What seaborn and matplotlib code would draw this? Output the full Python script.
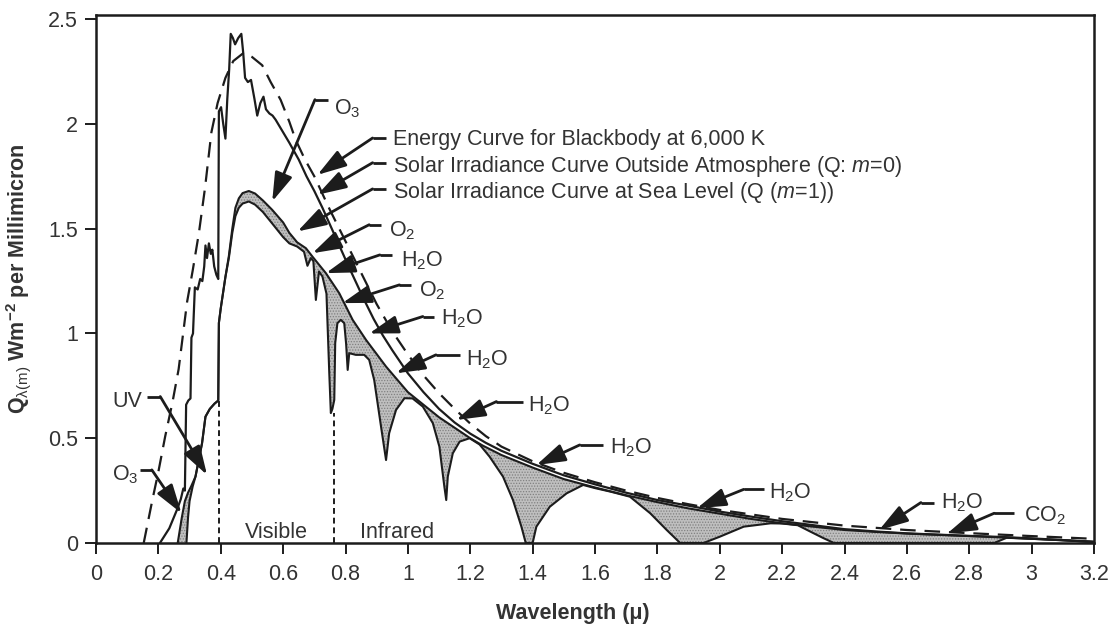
import numpy as np
import matplotlib
matplotlib.use("Agg")
import matplotlib.pyplot as plt
import seaborn as sns

# ---- spectral curves (wavelength in microns, irradiance per millimicron) ----
# blackbody curve for 6,000 K
bb_x = [0.153, 0.18, 0.2, 0.222, 0.245, 0.265, 0.292, 0.31, 0.33, 0.35, 0.37, 0.39,
        0.415, 0.44, 0.474, 0.5, 0.533, 0.56, 0.592, 0.62, 0.64, 0.67, 0.70, 0.75,
        0.8, 0.85, 0.9, 0.95, 1.0, 1.05, 1.1, 1.15, 1.2, 1.25, 1.3, 1.4, 1.5, 1.6,
        1.7, 1.8, 1.9, 2.0, 2.2, 2.4, 2.6, 2.8, 3.0, 3.2]
bb_y = [0.0, 0.2, 0.34, 0.51, 0.67, 0.83, 1.15, 1.3, 1.48, 1.7, 1.96, 2.1,
        2.22, 2.3, 2.34, 2.32, 2.28, 2.2, 2.115, 2.01, 1.925, 1.83, 1.75, 1.59,
        1.44, 1.29, 1.14, 1.01, 0.9, 0.8, 0.715, 0.64, 0.57, 0.51, 0.46, 0.39, 0.335, 0.29,
        0.25, 0.215, 0.185, 0.158, 0.115, 0.083, 0.062, 0.047, 0.033, 0.02]

# solar irradiance outside the atmosphere (m = 0)
out_x = [0.205, 0.235, 0.26, 0.272, 0.28, 0.285, 0.289, 0.296, 0.303, 0.306, 0.311,
         0.317, 0.326, 0.334, 0.341, 0.347, 0.351, 0.356, 0.362, 0.368, 0.373, 0.379,
         0.386, 0.392, 0.394, 0.401, 0.408, 0.415, 0.421, 0.427, 0.432, 0.439, 0.446,
         0.456, 0.466, 0.472, 0.478, 0.487, 0.497, 0.508, 0.517, 0.527, 0.537, 0.545,
         0.556, 0.566, 0.576, 0.6, 0.62, 0.65, 0.675, 0.7, 0.726, 0.75, 0.78, 0.81,
         0.835, 0.86, 0.89, 0.92, 0.95, 1.0, 1.05, 1.1, 1.15, 1.2, 1.25, 1.3, 1.4, 1.5, 1.6,
         1.7, 1.8, 1.9, 2.0, 2.1, 2.2, 2.3, 2.4, 2.5, 2.6, 2.7, 2.8, 2.9, 3.0, 3.1, 3.2]
out_y = [0.0, 0.07, 0.16, 0.21, 0.26, 0.25, 0.66, 0.68, 0.69, 0.98, 1.0,
         1.22, 1.21, 1.26, 1.25, 1.32, 1.42, 1.36, 1.43, 1.38, 1.40, 1.32,
         1.28, 1.26, 2.06, 2.08, 2.0, 1.93, 2.12, 2.26, 2.43, 2.41, 2.38,
         2.41, 2.43, 2.34, 2.22, 2.20, 2.21, 2.12, 2.04, 2.10, 2.13, 2.07,
         2.05, 2.04, 2.02, 1.96, 1.91, 1.83, 1.75, 1.68, 1.6, 1.52, 1.42, 1.32,
         1.24, 1.16, 1.07, 0.99, 0.92, 0.81, 0.72, 0.64, 0.575, 0.522, 0.478, 0.44, 0.378, 0.323, 0.28,
         0.24, 0.205, 0.178, 0.15, 0.126, 0.104, 0.085, 0.066, 0.055, 0.046, 0.04, 0.034, 0.029, 0.022, 0.014, 0.006]

# sea level curve without gaseous absorption (upper edge of the shaded bands)
sea_top_x = [0.262, 0.275, 0.285, 0.295, 0.305, 0.319, 0.34, 0.351, 0.365, 0.38, 0.392,
             0.394, 0.40, 0.408, 0.415, 0.426, 0.437, 0.447, 0.458, 0.47, 0.49, 0.51,
             0.535, 0.565, 0.6, 0.62, 0.645, 0.673, 0.694, 0.737, 0.78, 0.823, 0.866,
             0.93, 1.0, 1.1, 1.2, 1.24, 1.3, 1.4, 1.5, 1.6, 1.7, 1.8, 1.9, 2.0, 2.1,
             2.2, 2.3, 2.4, 2.5, 2.6, 2.7, 2.8, 2.9, 3.0, 3.1, 3.2]
sea_top_y = [0.0, 0.12, 0.2, 0.24, 0.27, 0.317, 0.476, 0.603, 0.64, 0.665, 0.68,
             1.05, 1.12, 1.2, 1.27, 1.37, 1.5, 1.6, 1.645, 1.67, 1.68, 1.668,
             1.635, 1.59, 1.53, 1.48, 1.435, 1.407, 1.367, 1.288, 1.192, 1.065, 0.969,
             0.842, 0.72, 0.6, 0.5, 0.465, 0.42, 0.36, 0.305, 0.265, 0.228, 0.195, 0.165, 0.14, 0.115,
             0.094, 0.078, 0.062, 0.053, 0.045, 0.039, 0.033, 0.027, 0.02, 0.013, 0.005]

# sea level curve (m = 1) with absorption bands
sea_x = [0.29, 0.295, 0.30, 0.31, 0.319, 0.34, 0.351, 0.365, 0.38, 0.392, 0.394, 0.40,
         0.408, 0.415, 0.426, 0.437, 0.447, 0.458, 0.47, 0.49, 0.51, 0.535, 0.565, 0.6,
         0.62, 0.645, 0.667, 0.678, 0.689, 0.697, 0.705, 0.715, 0.726, 0.739, 0.748,
         0.753, 0.758, 0.764, 0.767, 0.774, 0.785, 0.796, 0.802, 0.807, 0.812, 0.833,
         0.86, 0.876, 0.892, 0.914, 0.93, 0.94, 0.962, 0.989, 1.015, 1.048, 1.08, 1.101,
         1.117, 1.123, 1.128, 1.144, 1.166, 1.198, 1.23, 1.24, 1.262, 1.305, 1.337,
         1.364, 1.378, 1.40, 1.412, 1.455, 1.509, 1.562, 1.6, 1.65, 1.712, 1.777, 1.83,
         1.873, 1.948, 2.0, 2.077, 2.163, 2.2, 2.25, 2.291, 2.33, 2.366, 2.88, 2.92,
         3.0, 3.1, 3.2]
sea_y = [0.0, 0.12, 0.2, 0.27, 0.317, 0.476, 0.603, 0.64, 0.665, 0.68, 1.05, 1.12,
         1.2, 1.27, 1.36, 1.48, 1.56, 1.6, 1.62, 1.63, 1.615, 1.58, 1.525, 1.46,
         1.43, 1.415, 1.39, 1.323, 1.36, 1.345, 1.16, 1.296, 1.272, 1.19, 0.81,
         0.62, 0.64, 0.683, 0.954, 1.049, 1.065, 1.049, 0.95, 0.826, 0.906, 0.898,
         0.898, 0.874, 0.778, 0.555, 0.396, 0.524, 0.635, 0.691, 0.69, 0.651, 0.572, 0.46,
         0.269, 0.205, 0.317, 0.428, 0.484, 0.5, 0.47, 0.452, 0.412, 0.317, 0.205,
         0.078, 0.0, 0.0, 0.078, 0.173, 0.237, 0.277, 0.262, 0.245, 0.221, 0.142, 0.062,
         0.0, 0.0, 0.03, 0.078, 0.094, 0.093, 0.085, 0.054, 0.025, 0.0, 0.0, 0.025,
         0.02, 0.013, 0.005]

# UV / visible / infrared boundaries
boundary_x = [0.393, 0.762]
boundary_top = [0.68, 0.62]
region_names = ["Visible", "Infrared"]
region_x = [0.58, 0.965]

# absorber labels: text, text anchor, elbow of the leader, end of leader, leader height, arrow tip
labels = [
    (r"O$_3$", 0.764, 2.044, 0.702, 0.745, 2.116, (0.565, 1.63), "left"),
    ("Energy Curve for Blackbody at 6,000 K", 0.951, 1.90, 0.887, 0.93, 1.933, (0.71, 1.757), "left"),
    (r"Solar Irradiance Curve Outside Atmosphere (Q: $m$=0)", 0.951, 1.773, 0.887, 0.93, 1.815, (0.71, 1.662), "left"),
    (r"Solar Irradiance Curve at Sea Level (Q ($m$=1))", 0.951, 1.646, 0.887, 0.93, 1.69, (0.646, 1.487), "left"),
    (r"O$_2$", 0.94, 1.463, 0.876, 0.914, 1.519, (0.694, 1.383), "left"),
    (r"H$_2$O", 0.978, 1.32, 0.91, 0.95, 1.375, (0.737, 1.288), "left"),
    (r"O$_2$", 1.037, 1.176, 0.973, 1.01, 1.232, (0.79, 1.145), "left"),
    (r"H$_2$O", 1.107, 1.041, 1.048, 1.085, 1.081, (0.876, 1.0), "left"),
    (r"H$_2$O", 1.187, 0.85, 1.09, 1.166, 0.898, (0.962, 0.81), "left"),
    (r"H$_2$O", 1.385, 0.627, 1.284, 1.369, 0.675, (1.155, 0.587), "left"),
    (r"H$_2$O", 1.648, 0.428, 1.551, 1.626, 0.468, (1.412, 0.372), "left"),
    (r"H$_2$O", 2.157, 0.213, 2.077, 2.141, 0.256, (1.927, 0.166), "left"),
    (r"H$_2$O", 2.709, 0.166, 2.645, 2.687, 0.193, (2.511, 0.062), "left"),
    (r"CO$_2$", 2.977, 0.102, 2.88, 2.945, 0.142, (2.73, 0.046), "left"),
    ("UV", 0.147, 0.651, 0.206, 0.163, 0.699, (0.356, 0.325), "right"),
    (r"O$_3$", 0.137, 0.30, 0.179, 0.142, 0.349, (0.274, 0.142), "right"),
]

# ---- styling ----
sns.set_theme(style="ticks")
FONT = ["Liberation Sans", "DejaVu Sans"]
plt.rcParams["font.family"] = FONT
plt.rcParams["mathtext.fontset"] = "custom"
plt.rcParams["mathtext.rm"] = "Liberation Sans"
plt.rcParams["mathtext.it"] = "Liberation Sans:italic"
plt.rcParams["mathtext.bf"] = "Liberation Sans:bold"
plt.rcParams["hatch.linewidth"] = 0.6

INK = "#1c1c1c"
TEXT = "#333333"
FS = 15.5

fig = plt.figure(figsize=(11.08, 6.25), dpi=100)
ax = fig.add_axes([96 / 1108, 82 / 625, 998 / 1108, 528 / 625])

# shaded absorption bands between the two sea-level curves
poly_x = np.r_[sea_top_x, sea_x[::-1]]
poly_y = np.r_[sea_top_y, sea_y[::-1]]
ax.fill(poly_x, poly_y, facecolor="#bfbfbf", edgecolor="#808080", linewidth=0,
        hatch="......", zorder=1)

line_kw = dict(estimator=None, sort=False, color=INK, ax=ax, legend=False)
sns.lineplot(x=bb_x, y=bb_y, linewidth=1.6, linestyle=(0, (7, 4)), zorder=3, **line_kw)
sns.lineplot(x=out_x, y=out_y, linewidth=1.6, zorder=3, **line_kw)
sns.lineplot(x=sea_top_x, y=sea_top_y, linewidth=1.5, zorder=3, **line_kw)
sns.lineplot(x=sea_x, y=sea_y, linewidth=1.5, zorder=3, **line_kw)

ax.vlines(boundary_x, 0, boundary_top, colors=INK, linewidth=1.4,
          linestyles=(0, (3, 2)), zorder=3)
for name, xc in zip(region_names, region_x):
    ax.text(xc, 0.022, name, ha="center", va="baseline", fontsize=FS, color=TEXT)

arrow_style = "-|>,head_length=0.8,head_width=0.25"
for text, tx, ty, ex, sx, sy, tip, ha in labels:
    ax.text(tx, ty, text, ha=ha, va="baseline", fontsize=FS, color=TEXT, zorder=5)
    ax.plot([sx, ex], [sy, sy], color=INK, linewidth=2.0, solid_capstyle="butt", zorder=4)
    ax.annotate("", xy=tip, xytext=(ex, sy),
                arrowprops=dict(arrowstyle=arrow_style, color=INK, lw=2.0,
                                shrinkA=0, shrinkB=0, mutation_scale=22),
                zorder=4)

# ---- axes ----
ax.set_xlim(0, 3.2)
ax.set_ylim(0, 2.52)
xt = np.round(np.arange(0, 3.21, 0.2), 1)
ax.set_xticks(xt)
ax.set_xticklabels([f"{v:g}" for v in xt])
yt = [0, 0.5, 1, 1.5, 2, 2.5]
ax.set_yticks(yt)
ax.set_yticklabels([f"{v:g}" for v in yt])
ax.tick_params(direction="out", length=8, width=1.4, color=INK, labelsize=FS,
               labelcolor=TEXT, pad=5)
ax.tick_params(axis="x", pad=7)
for sp in ax.spines.values():
    sp.set_visible(True)
    sp.set_linewidth(1.8)
    sp.set_color(INK)
ax.grid(False)

ax.set_xlabel("Wavelength (μ)", fontsize=FS, fontweight="bold", color=TEXT)
ax.xaxis.set_label_coords(0.478, -0.114)
ax.xaxis.label.set_va("top")
ax.set_ylabel(r"Q$_{\mathrm{\lambda(m)}}$ Wm$^{\mathbf{-2}}$ per Millimicron", fontsize=FS,
              fontweight="bold", color=TEXT)
ax.yaxis.set_label_coords(-0.063, 0.5)

fig.savefig("out.png", dpi=100)
